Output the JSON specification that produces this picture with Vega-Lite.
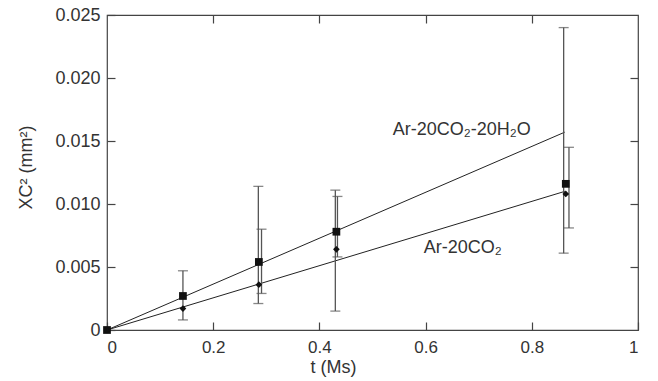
{
  "$schema": "https://vega.github.io/schema/vega-lite/v6.json",
  "autosize": "none",
  "padding": {"left": 107, "top": 15, "right": 20, "bottom": 51},
  "width": 531,
  "height": 315,
  "background": "white",
  "resolve": {"axis": {"x": "independent", "y": "independent"}},
  "config": {
    "view": {"stroke": "#444", "strokeWidth": 1.2},
    "font": "Liberation Sans",
    "axis": {
      "labelFont": "Liberation Sans",
      "titleFont": "Liberation Sans",
      "labelFontSize": 17,
      "titleFontSize": 18,
      "titleFontWeight": "normal",
      "labelColor": "#333",
      "titleColor": "#333",
      "domain": false,
      "grid": false,
      "tickColor": "#444",
      "tickSize": -8,
      "tickWidth": 1.2
    }
  },
  "datasets": {
    "points": [
      {"t": 0, "v": 0, "series": "Ar-20CO2-20H2O"},
      {"t": 0.143, "v": 0.0027, "series": "Ar-20CO2-20H2O"},
      {"t": 0.286, "v": 0.0054, "series": "Ar-20CO2-20H2O"},
      {"t": 0.432, "v": 0.0078, "series": "Ar-20CO2-20H2O"},
      {"t": 0.864, "v": 0.0116, "series": "Ar-20CO2-20H2O"},
      {"t": 0, "v": 0, "series": "Ar-20CO2"},
      {"t": 0.143, "v": 0.0017, "series": "Ar-20CO2"},
      {"t": 0.286, "v": 0.0036, "series": "Ar-20CO2"},
      {"t": 0.432, "v": 0.0064, "series": "Ar-20CO2"},
      {"t": 0.864, "v": 0.0108, "series": "Ar-20CO2"}
    ],
    "errors": [
      {"t": 0.143, "lo": 0.0008, "hi": 0.0047},
      {"t": 0.285, "lo": 0.0021, "hi": 0.0114},
      {"t": 0.291, "lo": 0.0029, "hi": 0.0080},
      {"t": 0.430, "lo": 0.0015, "hi": 0.0111},
      {"t": 0.434, "lo": 0.0058, "hi": 0.0106},
      {"t": 0.860, "lo": 0.0061, "hi": 0.0240},
      {"t": 0.870, "lo": 0.0081, "hi": 0.0145}
    ],
    "fits": [
      {"t": 0, "v": 0, "series": "Ar-20CO2-20H2O"},
      {"t": 0.862, "v": 0.0157, "series": "Ar-20CO2-20H2O"},
      {"t": 0, "v": 0, "series": "Ar-20CO2"},
      {"t": 0.862, "v": 0.0110, "series": "Ar-20CO2"}
    ],
    "labels": [
      {"t": 0.668, "v": 0.0159, "text": "Ar-20CO₂-20H₂O"},
      {"t": 0.670, "v": 0.0065, "text": "Ar-20CO₂"}
    ]
  },
  "layer": [
    {
      "data": {"name": "fits"},
      "mark": {"type": "line", "color": "#222", "strokeWidth": 1, "clip": false},
      "encoding": {
        "x": {"field": "t", "type": "quantitative", "scale": {"domain": [0, 1], "nice": false},
          "axis": {"values": [0, 0.2, 0.4, 0.6, 0.8, 1], "title": "t (Ms)", "labelPadding": 17,
            "titleX": 226, "titleY": 37, "titleBaseline": "middle",
            "labelExpr": "datum.value == 0 ? '0' : datum.value == 1 ? '1' : format(datum.value, '.1f')"}},
        "y": {"field": "v", "type": "quantitative", "scale": {"domain": [0, 0.025], "nice": false},
          "axis": {"values": [0, 0.005, 0.01, 0.015, 0.02, 0.025], "title": "XC² (mm²)", "labelPadding": 15, "labelFontSize": 18,
            "titleX": -81, "titleY": 152, "titleBaseline": "middle",
            "labelExpr": "datum.value == 0 ? '0' : format(datum.value, '.3f')"}},
        "detail": {"field": "series"}
      }
    },
    {
      "data": {"name": "errors"},
      "mark": {"type": "rule", "color": "#555", "strokeWidth": 1.3},
      "encoding": {
        "x": {"field": "t", "type": "quantitative", "axis": null},
        "y": {"field": "lo", "type": "quantitative", "axis": null},
        "y2": {"field": "hi"}
      }
    },
    {
      "data": {"name": "errors"},
      "mark": {"type": "tick", "orient": "horizontal", "color": "#555", "size": 10, "thickness": 1.3},
      "encoding": {
        "x": {"field": "t", "type": "quantitative", "axis": null},
        "y": {"field": "lo", "type": "quantitative", "axis": null}
      }
    },
    {
      "data": {"name": "errors"},
      "mark": {"type": "tick", "orient": "horizontal", "color": "#555", "size": 10, "thickness": 1.3},
      "encoding": {
        "x": {"field": "t", "type": "quantitative", "axis": null},
        "y": {"field": "hi", "type": "quantitative", "axis": null}
      }
    },
    {
      "data": {"name": "points"},
      "mark": {"type": "point", "filled": true, "color": "#111", "opacity": 1, "clip": false},
      "encoding": {
        "x": {"field": "t", "type": "quantitative", "axis": null},
        "y": {"field": "v", "type": "quantitative", "axis": null},
        "shape": {"field": "series", "type": "nominal",
          "scale": {"domain": ["Ar-20CO2-20H2O", "Ar-20CO2"], "range": ["square", "diamond"]}, "legend": null},
        "size": {"field": "series", "type": "nominal",
          "scale": {"domain": ["Ar-20CO2-20H2O", "Ar-20CO2"], "range": [60, 45]}, "legend": null}
      }
    },
    {
      "data": {"name": "labels"},
      "mark": {"type": "text", "font": "Liberation Sans", "fontSize": 18, "color": "#333", "align": "center", "baseline": "middle"},
      "encoding": {
        "x": {"field": "t", "type": "quantitative", "axis": null},
        "y": {"field": "v", "type": "quantitative", "axis": null},
        "text": {"field": "text"}
      }
    },
    {
      "data": {"name": "fits"},
      "mark": {"type": "point", "opacity": 0},
      "encoding": {
        "x": {"field": "t", "type": "quantitative",
          "axis": {"orient": "top", "values": [0.2, 0.4, 0.6, 0.8], "labels": false, "title": null}},
        "y": {"field": "v", "type": "quantitative",
          "axis": {"orient": "right", "values": [0.005, 0.01, 0.015, 0.02], "labels": false, "title": null}}
      }
    }
  ]
}
